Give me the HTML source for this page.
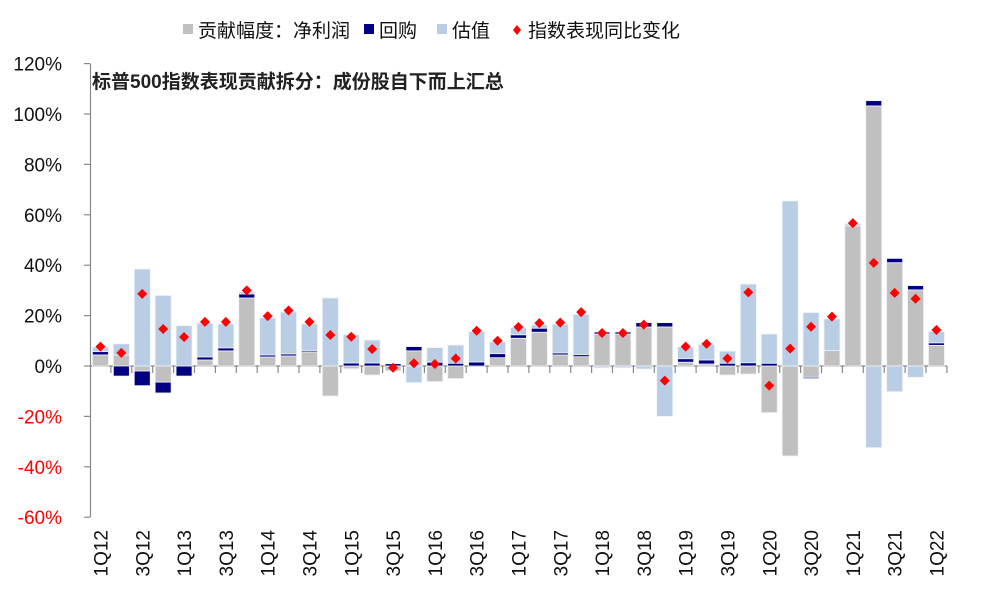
<!DOCTYPE html>
<html><head><meta charset="utf-8"><style>
body{margin:0;background:#fff;}
svg text{font-family:"Liberation Sans","Noto Sans CJK SC",sans-serif;}
</style></head><body>
<svg id="c" width="986" height="604" viewBox="0 0 986 604" xmlns="http://www.w3.org/2000/svg">
<g font-size="19" fill="#111">
<rect x="183" y="24" width="10" height="10" fill="#c0c0c0"/>
<text x="198" y="37">贡献幅度：净利润</text>
<rect x="364" y="24" width="10" height="10" fill="#000080"/>
<text x="379" y="37">回购</text>
<rect x="437" y="24" width="10" height="10" fill="#b9cde5"/>
<text x="452" y="37">估值</text>
<path d="M517,25 L521,30 L517,35 L513,30 Z" fill="#ff0000"/>
<text x="528" y="37">指数表现同比变化</text>
</g>
<text x="92" y="88" font-size="19" font-weight="bold" fill="#222">标普500指数表现贡献拆分：成份股自下而上汇总</text>
<g id="axes"></g>
<g id="bars"></g>
<g id="marks"></g>
</svg>
<script>
const categories=["1Q12","2Q12","3Q12","4Q12","1Q13","2Q13","3Q13","4Q13","1Q14","2Q14","3Q14","4Q14","1Q15","2Q15","3Q15","4Q15","1Q16","2Q16","3Q16","4Q16","1Q17","2Q17","3Q17","4Q17","1Q18","2Q18","3Q18","4Q18","1Q19","2Q19","3Q19","4Q19","1Q20","2Q20","3Q20","4Q20","1Q21","2Q21","3Q21","4Q21","1Q22"];
const earnings=[4.4,4.4,-2,-6.4,0,2.4,6,27,3.6,4,5.6,-11.9,-1.1,-3.6,-1.9,6,-6.2,-5,0,3.3,11,13.4,4.4,3.7,12.7,12.7,15.5,15.5,1.5,0.8,-3.6,-3.2,-18.5,-35.7,-4.5,6.1,55.6,103.2,41,30.2,8.2];
const buyback=[1.3,-4,-5.8,-4.3,-4,1.2,1.2,1.6,0.8,0.8,0.6,0,1.2,1.2,0.9,1.7,1.5,1.1,1.6,1.6,1.4,1.6,0.8,0.8,0.8,0.8,1.7,1.7,1.4,1.6,1.1,1.3,1.1,0,-0.5,0,0,2.1,1.7,1.7,1];
const valuation=[1.8,4.4,38.5,28,16,13.4,9.5,0.8,14.7,16.6,10.5,27,11.2,9.1,0,-6.6,5.8,7.2,12,4.7,2.8,1.3,11.4,16,-0.7,-0.7,-1.2,-20,4.7,6.2,4.8,31.2,11.6,65.5,21.2,12.6,0.8,-32.4,-10.2,-4.5,4.5];
const indexChange=[7.7,5.2,28.6,14.7,11.5,17.5,17.5,30,19.8,22,17.5,12.3,11.6,6.7,-0.7,1.1,0.8,3,14,10,15.5,17,17.2,21.4,13.1,13.1,16.4,-5.8,7.7,8.8,3,29.2,-7.8,6.9,15.6,19.6,56.7,40.9,29,26.7,14.3];
const yTicks=[120,100,80,60,40,20,0,-20,-40,-60];

const NS="http://www.w3.org/2000/svg";
const X0=90,BAND=20.9,Y0=366,PPU=2.52,BW=16;
const xc=i=>X0+BAND*(i+0.5);
const y=v=>Y0-v*PPU;
function mk(tag,attrs,parent){const e=document.createElementNS(NS,tag);for(const k in attrs)e.setAttribute(k,attrs[k]);parent.appendChild(e);return e;}
const axes=document.getElementById('axes'),bars=document.getElementById('bars'),marks=document.getElementById('marks');

const ya=mk('line',{x1:X0+0.5,y1:y(120),x2:X0+0.5,y2:y(-60),stroke:'#888','stroke-width':1.2},axes);


yTicks.forEach(t=>{
  const tk=mk('line',{x1:X0-6,y1:y(t),x2:X0,y2:y(t),stroke:'#888','stroke-width':1.2},axes);
  
  
  const tx=mk('text',{x:X0-28,y:y(t)+7,'text-anchor':'end','font-size':19,fill:t<0?'#ff0000':'#111'},axes);
  tx.textContent=t+'%';
  
  
});

categories.forEach((c,i)=>{
  let pos=0,neg=0;
  [[earnings[i],'#c0c0c0','earnings'],[buyback[i],'#000080','buyback'],[valuation[i],'#b9cde5','valuation']].forEach(([v,col,nm])=>{
    if(!v)return;
    let top,bot;
    if(v>0){bot=pos;top=pos+v;pos=top;}else{top=neg;bot=neg+v;neg=bot;}
    const r=mk('rect',{x:xc(i)-BW/2,y:y(top),width:BW,height:Math.max(0.5,(top-bot)*PPU),fill:col,stroke:'#eef2f8','stroke-width':0.8},bars);
    
    
  });
});

const zl=mk('line',{x1:X0,y1:Y0,x2:X0+BAND*categories.length,y2:Y0,stroke:'#888','stroke-width':1.2},axes);


for(let i=1;i<=categories.length;i++){
  const tk=mk('line',{x1:X0+BAND*i,y1:Y0,x2:X0+BAND*i,y2:Y0+7,stroke:'#888','stroke-width':1.2},axes);
  
  
}
categories.forEach((c,i)=>{
  if(i%2)return;
  const tx=mk('text',{x:0,y:0,'text-anchor':'end','font-size':19,fill:'#111',transform:`translate(${xc(i)+7},530) rotate(-90)`},axes);
  tx.textContent=c;
  
  
});

indexChange.forEach((v,i)=>{
  const cx=xc(i),cy=y(v);
  const p=mk('path',{d:`M${cx},${cy-5} L${cx+5},${cy} L${cx},${cy+5} L${cx-5},${cy} Z`,fill:'#ff0000'},marks);
  
  
});
</script>
</body></html>
